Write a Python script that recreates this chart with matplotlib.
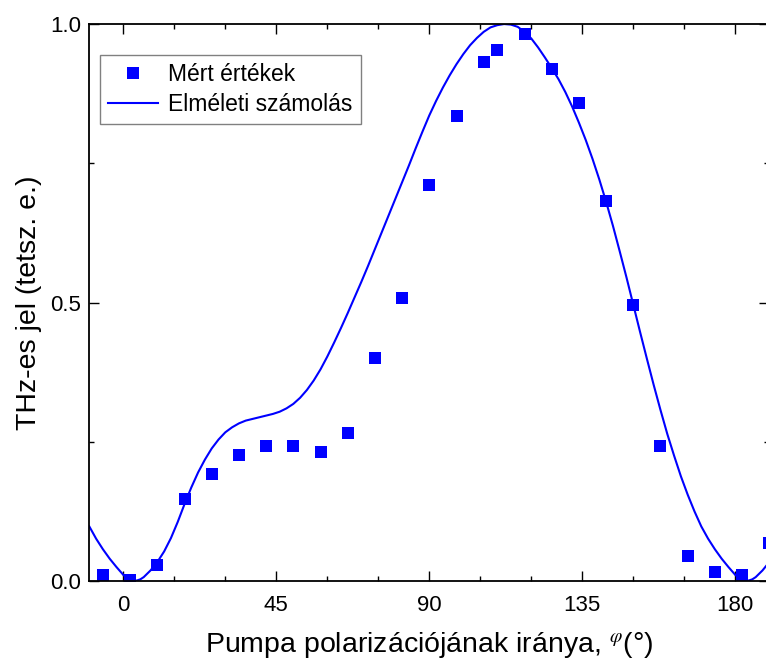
import matplotlib
matplotlib.use("Agg")
import matplotlib.pyplot as plt
from matplotlib.ticker import MultipleLocator, FormatStrFormatter

plt.rcParams['font.family'] = ['Liberation Sans', 'DejaVu Sans']
plt.rcParams['mathtext.fontset'] = 'stix'

# measured THz signal vs. pump polarization angle
phi_meas = [-6, 2, 10, 18, 26, 34, 42, 50, 58, 66, 74, 82, 90, 98, 106, 110,
            118, 126, 134, 142, 150, 158, 166, 174, 182, 190]
thz_meas = [0.011, 0.002, 0.028, 0.147, 0.192, 0.226, 0.242, 0.242, 0.232,
            0.265, 0.401, 0.508, 0.711, 0.835, 0.931, 0.954, 0.982, 0.920,
            0.858, 0.683, 0.496, 0.243, 0.045, 0.017, 0.011, 0.068]

# calculated curve
phi_calc = [-10, -8, -6, -4, -2, 0, 1, 2, 3, 4, 5, 6, 8, 10, 12, 14, 16, 18,
            20, 22, 24, 26, 28, 30, 32, 34, 36, 38, 40, 42, 44, 46, 48, 50,
            52, 54, 56, 58, 60, 62, 64, 66, 68, 70, 72, 74, 76, 78, 80, 82,
            84, 86, 88, 90, 92, 94, 96, 98, 100, 102, 104, 106, 108, 110, 112,
            114, 116, 118, 120, 122, 124, 126, 128, 130, 132, 134, 136, 138,
            140, 142, 144, 146, 148, 150, 152, 154, 156, 158, 160, 162, 164,
            166, 168, 170, 172, 174, 176, 178, 180, 181, 182, 183, 184, 185,
            186, 188, 190]
thz_calc = [0.098, 0.076, 0.057, 0.040, 0.025, 0.011, 0.006, 0.002, 0.0,
            0.001, 0.003, 0.007, 0.019, 0.034, 0.053, 0.077, 0.106, 0.138,
            0.168, 0.195, 0.218, 0.238, 0.254, 0.267, 0.276, 0.283, 0.288,
            0.291, 0.294, 0.297, 0.300, 0.304, 0.310, 0.318, 0.329, 0.343,
            0.360, 0.380, 0.403, 0.428, 0.454, 0.481, 0.509, 0.537, 0.566,
            0.596, 0.626, 0.656, 0.686, 0.716, 0.746, 0.777, 0.807, 0.836,
            0.862, 0.886, 0.908, 0.928, 0.946, 0.962, 0.975, 0.986, 0.994,
            0.998, 1.0, 0.999, 0.995, 0.986, 0.974, 0.958, 0.940, 0.921,
            0.901, 0.878, 0.852, 0.823, 0.792, 0.758, 0.721, 0.681, 0.638,
            0.592, 0.545, 0.496, 0.447, 0.399, 0.352, 0.307, 0.264, 0.225,
            0.188, 0.155, 0.125, 0.098, 0.076, 0.057, 0.040, 0.025, 0.011,
            0.006, 0.002, 0.0, 0.001, 0.003, 0.007, 0.019, 0.034]

fig = plt.figure(figsize=(7.66, 6.66), dpi=100)
ax = fig.add_axes([0.1166, 0.1276, 0.8877, 0.8363])

ax.plot(phi_meas, thz_meas, 's', color='#0000ff', ms=8.6, mew=0,
        label='Mért értékek')
ax.plot(phi_calc, thz_calc, '-', color='#0000ff', lw=1.5,
        label='Elméleti számolás')

ax.set_xlim(-10, 190)
ax.set_ylim(0, 1.0)
ax.xaxis.set_major_locator(MultipleLocator(45))
ax.xaxis.set_minor_locator(MultipleLocator(15))
ax.yaxis.set_major_locator(MultipleLocator(0.5))
ax.yaxis.set_minor_locator(MultipleLocator(0.25))
ax.yaxis.set_major_formatter(FormatStrFormatter('%.1f'))

ax.tick_params(which='both', direction='in', top=True, right=True,
               width=1.0, labelsize=16)
ax.tick_params(axis='x', pad=10)
ax.tick_params(axis='y', pad=6)
ax.tick_params(which='major', length=7)
ax.tick_params(which='minor', length=3.6)
for s in ax.spines.values():
    s.set_linewidth(1.3)

ax.set_xlabel('Pumpa polarizációjának iránya, $^{\\varphi}$(°)', fontsize=20.5,
              labelpad=10)
ax.set_ylabel('THz-es jel (tetsz. e.)', fontsize=20.5, labelpad=6)

leg = ax.legend(loc='upper left', bbox_to_anchor=(0.015, 0.945), fontsize=16.5,
                frameon=True, fancybox=False, edgecolor='#808080',
                framealpha=1, borderpad=0.35, handlelength=2.2,
                handletextpad=0.45, labelspacing=0.3, borderaxespad=0)
leg.get_frame().set_linewidth(1.0)

fig.savefig('out.png', dpi=100)
